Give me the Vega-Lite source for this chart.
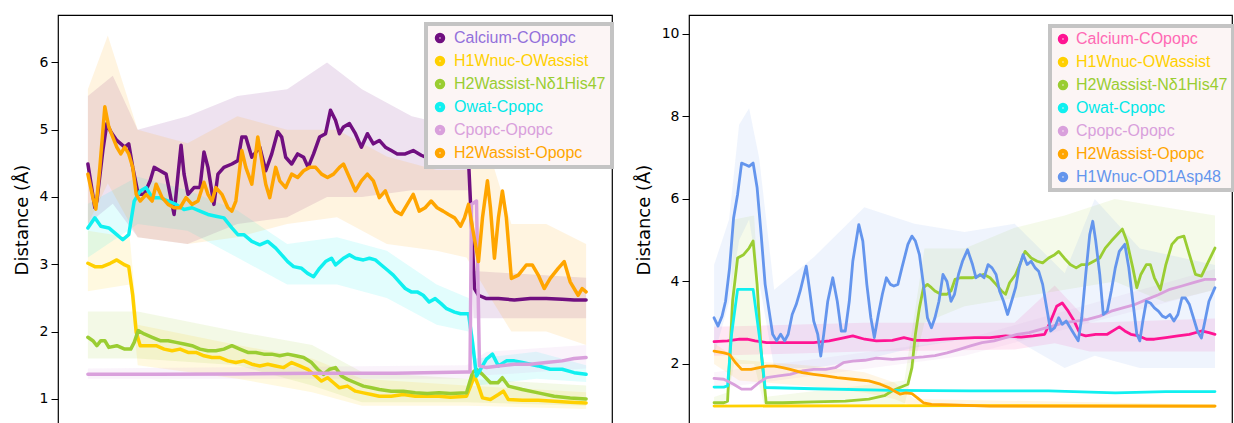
{
"$schema": "https://vega.github.io/schema/vega-lite/v6.json",
"background": "white",
"padding": {"left": 12, "top": 14, "right": 0, "bottom": 0},
"spacing": 19,
"config": {
  "view": {"stroke": "#000000", "strokeWidth": 1.2},
  "axisY": {"grid": false, "tickSize": 7, "tickColor": "#000", "labelPadding": 3, "labelFontSize": 14, "labelFont": "DejaVu Sans", "labelColor": "#000", "titleFontSize": 18, "titleFont": "DejaVu Sans", "titleFontWeight": "normal", "titleColor": "#000", "titlePadding": 8, "domain": false, "format": "d"},
  "legend": {"strokeWidth": 4}
},
"datasets": {
"leftband": [
{"s":"Calcium-COpopc","x":0,"lo":3.6,"hi":5.5},{"s":"Calcium-COpopc","x":5,"lo":3.9,"hi":5.8},{"s":"Calcium-COpopc","x":10,"lo":3.4,"hi":5.0},{"s":"Calcium-COpopc","x":20,"lo":3.3,"hi":5.2},{"s":"Calcium-COpopc","x":30,"lo":3.6,"hi":5.5},{"s":"Calcium-COpopc","x":40,"lo":3.7,"hi":5.6},{"s":"Calcium-COpopc","x":48,"lo":4.0,"hi":6.0},{"s":"Calcium-COpopc","x":55,"lo":4.0,"hi":5.6},{"s":"Calcium-COpopc","x":65,"lo":4.1,"hi":5.2},{"s":"Calcium-COpopc","x":76.4,"lo":4.1,"hi":5.0},{"s":"Calcium-COpopc","x":77.4,"lo":2.2,"hi":2.9},{"s":"Calcium-COpopc","x":100,"lo":2.2,"hi":2.8},
{"s":"H1Wnuc-OWassist","x":0,"lo":2.6,"hi":3.5},{"s":"H1Wnuc-OWassist","x":8.4,"lo":2.7,"hi":3.4},{"s":"H1Wnuc-OWassist","x":10,"lo":1.5,"hi":2.1},{"s":"H1Wnuc-OWassist","x":30,"lo":1.3,"hi":1.8},{"s":"H1Wnuc-OWassist","x":45,"lo":1.1,"hi":1.6},{"s":"H1Wnuc-OWassist","x":55,"lo":0.9,"hi":1.3},{"s":"H1Wnuc-OWassist","x":76,"lo":0.9,"hi":1.2},{"s":"H1Wnuc-OWassist","x":100,"lo":0.85,"hi":1.1},
{"s":"H2Wassist-Nδ1His47","x":0,"lo":1.6,"hi":2.3},{"s":"H2Wassist-Nδ1His47","x":10,"lo":1.6,"hi":2.3},{"s":"H2Wassist-Nδ1His47","x":30,"lo":1.5,"hi":2.0},{"s":"H2Wassist-Nδ1His47","x":45,"lo":1.2,"hi":1.8},{"s":"H2Wassist-Nδ1His47","x":55,"lo":0.95,"hi":1.4},{"s":"H2Wassist-Nδ1His47","x":76,"lo":0.95,"hi":1.3},{"s":"H2Wassist-Nδ1His47","x":100,"lo":0.9,"hi":1.2},
{"s":"Owat-Cpopc","x":0,"lo":3.1,"hi":3.9},{"s":"Owat-Cpopc","x":10,"lo":3.6,"hi":4.3},{"s":"Owat-Cpopc","x":20,"lo":3.5,"hi":4.1},{"s":"Owat-Cpopc","x":30,"lo":3.1,"hi":3.8},{"s":"Owat-Cpopc","x":40,"lo":2.7,"hi":3.3},{"s":"Owat-Cpopc","x":50,"lo":2.7,"hi":3.4},{"s":"Owat-Cpopc","x":60,"lo":2.5,"hi":3.2},{"s":"Owat-Cpopc","x":70,"lo":2.1,"hi":2.7},{"s":"Owat-Cpopc","x":76.4,"lo":2.0,"hi":2.5},{"s":"Owat-Cpopc","x":78,"lo":1.2,"hi":1.6},{"s":"Owat-Cpopc","x":90,"lo":1.3,"hi":1.7},{"s":"Owat-Cpopc","x":100,"lo":1.25,"hi":1.5},
{"s":"Cpopc-Opopc","x":0,"lo":1.3,"hi":1.45},{"s":"Cpopc-Opopc","x":76,"lo":1.3,"hi":1.5},{"s":"Cpopc-Opopc","x":80,"lo":1.35,"hi":1.7},{"s":"Cpopc-Opopc","x":100,"lo":1.45,"hi":1.8},
{"s":"H2Wassist-Opopc","x":0,"lo":3.6,"hi":5.6},{"s":"H2Wassist-Opopc","x":4,"lo":4.2,"hi":6.4},{"s":"H2Wassist-Opopc","x":10,"lo":3.4,"hi":5.0},{"s":"H2Wassist-Opopc","x":20,"lo":3.3,"hi":4.8},{"s":"H2Wassist-Opopc","x":30,"lo":3.4,"hi":5.2},{"s":"H2Wassist-Opopc","x":40,"lo":3.6,"hi":5.0},{"s":"H2Wassist-Opopc","x":50,"lo":3.7,"hi":5.0},{"s":"H2Wassist-Opopc","x":60,"lo":3.3,"hi":4.6},{"s":"H2Wassist-Opopc","x":70,"lo":3.2,"hi":4.4},{"s":"H2Wassist-Opopc","x":76,"lo":3.1,"hi":4.4},{"s":"H2Wassist-Opopc","x":80,"lo":2.6,"hi":4.8},{"s":"H2Wassist-Opopc","x":85,"lo":2.0,"hi":3.6},{"s":"H2Wassist-Opopc","x":92,"lo":2.0,"hi":3.6},{"s":"H2Wassist-Opopc","x":100,"lo":1.8,"hi":3.3}
],
"rightband": [
{"s":"Calcium-COpopc","x":0,"lo":2.2,"hi":2.9},{"s":"Calcium-COpopc","x":30,"lo":2.3,"hi":3.0},{"s":"Calcium-COpopc","x":60,"lo":2.35,"hi":3.0},{"s":"Calcium-COpopc","x":68,"lo":2.5,"hi":3.9},{"s":"Calcium-COpopc","x":75,"lo":2.3,"hi":3.0},{"s":"Calcium-COpopc","x":100,"lo":2.3,"hi":3.1},
{"s":"H2Wassist-Nδ1His47","x":0,"lo":1.0,"hi":1.2},{"s":"H2Wassist-Nδ1His47","x":2.5,"lo":1.0,"hi":1.3},{"s":"H2Wassist-Nδ1His47","x":4,"lo":2.0,"hi":5.5},{"s":"H2Wassist-Nδ1His47","x":8,"lo":2.0,"hi":5.6},{"s":"H2Wassist-Nδ1His47","x":10,"lo":1.0,"hi":1.2},{"s":"H2Wassist-Nδ1His47","x":38,"lo":1.0,"hi":1.6},{"s":"H2Wassist-Nδ1His47","x":42,"lo":3.0,"hi":4.8},{"s":"H2Wassist-Nδ1His47","x":50,"lo":3.4,"hi":4.8},{"s":"H2Wassist-Nδ1His47","x":60,"lo":3.6,"hi":5.3},{"s":"H2Wassist-Nδ1His47","x":70,"lo":3.8,"hi":5.6},{"s":"H2Wassist-Nδ1His47","x":80,"lo":4.0,"hi":6.0},{"s":"H2Wassist-Nδ1His47","x":90,"lo":3.5,"hi":5.8},{"s":"H2Wassist-Nδ1His47","x":100,"lo":3.8,"hi":5.6},
{"s":"Cpopc-Opopc","x":0,"lo":1.4,"hi":1.8},{"s":"Cpopc-Opopc","x":50,"lo":2.2,"hi":2.6},{"s":"Cpopc-Opopc","x":100,"lo":3.8,"hi":4.3},
{"s":"H2Wassist-Opopc","x":0,"lo":2.0,"hi":2.5},{"s":"H2Wassist-Opopc","x":5,"lo":1.6,"hi":2.1},{"s":"H2Wassist-Opopc","x":20,"lo":1.45,"hi":1.95},{"s":"H2Wassist-Opopc","x":30,"lo":1.3,"hi":1.8},{"s":"H2Wassist-Opopc","x":36,"lo":1.15,"hi":1.55},{"s":"H2Wassist-Opopc","x":40,"lo":0.95,"hi":1.15},{"s":"H2Wassist-Opopc","x":100,"lo":0.95,"hi":1.02},
{"s":"H1Wnuc-OD1Asp48","x":0,"lo":2.2,"hi":4.4},{"s":"H1Wnuc-OD1Asp48","x":3,"lo":3.5,"hi":5.5},{"s":"H1Wnuc-OD1Asp48","x":5,"lo":5.0,"hi":7.8},{"s":"H1Wnuc-OD1Asp48","x":7,"lo":5.5,"hi":8.2},{"s":"H1Wnuc-OD1Asp48","x":9,"lo":4.0,"hi":7.0},{"s":"H1Wnuc-OD1Asp48","x":12,"lo":1.9,"hi":3.8},{"s":"H1Wnuc-OD1Asp48","x":20,"lo":1.9,"hi":4.6},{"s":"H1Wnuc-OD1Asp48","x":30,"lo":2.1,"hi":5.8},{"s":"H1Wnuc-OD1Asp48","x":40,"lo":2.4,"hi":5.4},{"s":"H1Wnuc-OD1Asp48","x":50,"lo":2.6,"hi":5.2},{"s":"H1Wnuc-OD1Asp48","x":60,"lo":2.6,"hi":5.4},{"s":"H1Wnuc-OD1Asp48","x":70,"lo":1.9,"hi":4.2},{"s":"H1Wnuc-OD1Asp48","x":76,"lo":2.2,"hi":6.0},{"s":"H1Wnuc-OD1Asp48","x":85,"lo":1.9,"hi":4.8},{"s":"H1Wnuc-OD1Asp48","x":100,"lo":1.9,"hi":4.4}
],
"left": [
{"s":"Calcium-COpopc","x":0,"y":4.49},{"s":"Calcium-COpopc","x":1.4,"y":3.84},{"s":"Calcium-COpopc","x":1.8,"y":3.94},{"s":"Calcium-COpopc","x":3.0,"y":4.69},{"s":"Calcium-COpopc","x":3.8,"y":5.09},{"s":"Calcium-COpopc","x":4.6,"y":4.97},{"s":"Calcium-COpopc","x":5.8,"y":4.84},{"s":"Calcium-COpopc","x":7.4,"y":4.74},{"s":"Calcium-COpopc","x":8.2,"y":4.79},{"s":"Calcium-COpopc","x":9.0,"y":4.44},{"s":"Calcium-COpopc","x":10.1,"y":4.04},{"s":"Calcium-COpopc","x":11.3,"y":4.04},{"s":"Calcium-COpopc","x":12.5,"y":4.24},{"s":"Calcium-COpopc","x":13.3,"y":4.44},{"s":"Calcium-COpopc","x":14.5,"y":4.39},{"s":"Calcium-COpopc","x":15.7,"y":4.34},{"s":"Calcium-COpopc","x":16.5,"y":4.04},{"s":"Calcium-COpopc","x":17.3,"y":3.74},{"s":"Calcium-COpopc","x":18.1,"y":4.34},{"s":"Calcium-COpopc","x":18.7,"y":4.77},{"s":"Calcium-COpopc","x":19.3,"y":4.34},{"s":"Calcium-COpopc","x":20.1,"y":4.04},{"s":"Calcium-COpopc","x":21.3,"y":4.14},{"s":"Calcium-COpopc","x":22.5,"y":4.14},{"s":"Calcium-COpopc","x":23.3,"y":4.67},{"s":"Calcium-COpopc","x":24.1,"y":4.44},{"s":"Calcium-COpopc","x":25.3,"y":3.89},{"s":"Calcium-COpopc","x":26.1,"y":4.34},{"s":"Calcium-COpopc","x":27.3,"y":4.44},{"s":"Calcium-COpopc","x":28.9,"y":4.49},{"s":"Calcium-COpopc","x":30.1,"y":4.54},{"s":"Calcium-COpopc","x":30.9,"y":4.89},{"s":"Calcium-COpopc","x":31.7,"y":4.89},{"s":"Calcium-COpopc","x":32.9,"y":4.59},{"s":"Calcium-COpopc","x":34.5,"y":4.74},{"s":"Calcium-COpopc","x":35.7,"y":4.39},{"s":"Calcium-COpopc","x":36.9,"y":4.64},{"s":"Calcium-COpopc","x":38.1,"y":4.97},{"s":"Calcium-COpopc","x":38.9,"y":4.89},{"s":"Calcium-COpopc","x":39.7,"y":4.59},{"s":"Calcium-COpopc","x":40.9,"y":4.49},{"s":"Calcium-COpopc","x":42.1,"y":4.64},{"s":"Calcium-COpopc","x":43.3,"y":4.59},{"s":"Calcium-COpopc","x":44.2,"y":4.44},{"s":"Calcium-COpopc","x":45.3,"y":4.64},{"s":"Calcium-COpopc","x":46.5,"y":4.89},{"s":"Calcium-COpopc","x":47.7,"y":4.94},{"s":"Calcium-COpopc","x":48.7,"y":5.29},{"s":"Calcium-COpopc","x":49.7,"y":5.14},{"s":"Calcium-COpopc","x":50.5,"y":4.94},{"s":"Calcium-COpopc","x":51.3,"y":5.04},{"s":"Calcium-COpopc","x":52.5,"y":5.09},{"s":"Calcium-COpopc","x":53.7,"y":4.94},{"s":"Calcium-COpopc","x":54.9,"y":4.74},{"s":"Calcium-COpopc","x":56.1,"y":4.94},{"s":"Calcium-COpopc","x":57.3,"y":4.79},{"s":"Calcium-COpopc","x":58.5,"y":4.84},{"s":"Calcium-COpopc","x":59.7,"y":4.74},{"s":"Calcium-COpopc","x":60.9,"y":4.69},{"s":"Calcium-COpopc","x":62.1,"y":4.64},{"s":"Calcium-COpopc","x":63.7,"y":4.64},{"s":"Calcium-COpopc","x":65.3,"y":4.69},{"s":"Calcium-COpopc","x":66.9,"y":4.62},{"s":"Calcium-COpopc","x":68.5,"y":4.57},{"s":"Calcium-COpopc","x":69.7,"y":4.54},{"s":"Calcium-COpopc","x":70.9,"y":4.59},{"s":"Calcium-COpopc","x":72.4,"y":4.57},{"s":"Calcium-COpopc","x":73.6,"y":4.54},{"s":"Calcium-COpopc","x":75.2,"y":4.57},{"s":"Calcium-COpopc","x":76.4,"y":4.55},{"s":"Calcium-COpopc","x":77.6,"y":2.64},{"s":"Calcium-COpopc","x":78.4,"y":2.54},{"s":"Calcium-COpopc","x":80.0,"y":2.49},{"s":"Calcium-COpopc","x":82.4,"y":2.49},{"s":"Calcium-COpopc","x":85.6,"y":2.47},{"s":"Calcium-COpopc","x":88.8,"y":2.49},{"s":"Calcium-COpopc","x":92.0,"y":2.49},{"s":"Calcium-COpopc","x":95.2,"y":2.48},{"s":"Calcium-COpopc","x":97.6,"y":2.47},{"s":"Calcium-COpopc","x":100,"y":2.47},
{"s":"H1Wnuc-OWassist","x":0,"y":3.015},{"s":"H1Wnuc-OWassist","x":1.4,"y":2.965},{"s":"H1Wnuc-OWassist","x":2.9,"y":2.965},{"s":"H1Wnuc-OWassist","x":4.5,"y":3.015},{"s":"H1Wnuc-OWassist","x":5.8,"y":3.065},{"s":"H1Wnuc-OWassist","x":7.4,"y":2.99},{"s":"H1Wnuc-OWassist","x":8.2,"y":2.965},{"s":"H1Wnuc-OWassist","x":9.0,"y":2.54},{"s":"H1Wnuc-OWassist","x":9.7,"y":1.99},{"s":"H1Wnuc-OWassist","x":10.5,"y":1.79},{"s":"H1Wnuc-OWassist","x":12.1,"y":1.79},{"s":"H1Wnuc-OWassist","x":13.7,"y":1.79},{"s":"H1Wnuc-OWassist","x":15.3,"y":1.74},{"s":"H1Wnuc-OWassist","x":16.9,"y":1.715},{"s":"H1Wnuc-OWassist","x":18.5,"y":1.74},{"s":"H1Wnuc-OWassist","x":20.1,"y":1.69},{"s":"H1Wnuc-OWassist","x":21.7,"y":1.69},{"s":"H1Wnuc-OWassist","x":23.3,"y":1.64},{"s":"H1Wnuc-OWassist","x":24.9,"y":1.615},{"s":"H1Wnuc-OWassist","x":26.5,"y":1.615},{"s":"H1Wnuc-OWassist","x":28.1,"y":1.565},{"s":"H1Wnuc-OWassist","x":29.7,"y":1.54},{"s":"H1Wnuc-OWassist","x":31.3,"y":1.565},{"s":"H1Wnuc-OWassist","x":32.9,"y":1.515},{"s":"H1Wnuc-OWassist","x":34.5,"y":1.49},{"s":"H1Wnuc-OWassist","x":36.1,"y":1.515},{"s":"H1Wnuc-OWassist","x":37.7,"y":1.49},{"s":"H1Wnuc-OWassist","x":39.3,"y":1.465},{"s":"H1Wnuc-OWassist","x":40.9,"y":1.54},{"s":"H1Wnuc-OWassist","x":42.5,"y":1.49},{"s":"H1Wnuc-OWassist","x":44.1,"y":1.44},{"s":"H1Wnuc-OWassist","x":45.7,"y":1.34},{"s":"H1Wnuc-OWassist","x":46.9,"y":1.265},{"s":"H1Wnuc-OWassist","x":48.1,"y":1.315},{"s":"H1Wnuc-OWassist","x":49.3,"y":1.24},{"s":"H1Wnuc-OWassist","x":50.5,"y":1.165},{"s":"H1Wnuc-OWassist","x":52.1,"y":1.19},{"s":"H1Wnuc-OWassist","x":53.7,"y":1.115},{"s":"H1Wnuc-OWassist","x":55.3,"y":1.09},{"s":"H1Wnuc-OWassist","x":56.9,"y":1.065},{"s":"H1Wnuc-OWassist","x":58.5,"y":1.04},{"s":"H1Wnuc-OWassist","x":60.9,"y":1.04},{"s":"H1Wnuc-OWassist","x":63.3,"y":1.065},{"s":"H1Wnuc-OWassist","x":65.7,"y":1.04},{"s":"H1Wnuc-OWassist","x":68.1,"y":1.04},{"s":"H1Wnuc-OWassist","x":70.5,"y":1.04},{"s":"H1Wnuc-OWassist","x":72.8,"y":1.025},{"s":"H1Wnuc-OWassist","x":76.0,"y":1.04},{"s":"H1Wnuc-OWassist","x":76.8,"y":1.19},{"s":"H1Wnuc-OWassist","x":77.6,"y":1.34},{"s":"H1Wnuc-OWassist","x":78.4,"y":1.19},{"s":"H1Wnuc-OWassist","x":79.2,"y":1.015},{"s":"H1Wnuc-OWassist","x":80.8,"y":0.99},{"s":"H1Wnuc-OWassist","x":82.4,"y":1.065},{"s":"H1Wnuc-OWassist","x":83.4,"y":1.115},{"s":"H1Wnuc-OWassist","x":84.4,"y":0.99},{"s":"H1Wnuc-OWassist","x":87.2,"y":0.98},{"s":"H1Wnuc-OWassist","x":90.4,"y":0.98},{"s":"H1Wnuc-OWassist","x":93.6,"y":0.965},{"s":"H1Wnuc-OWassist","x":96.8,"y":0.95},{"s":"H1Wnuc-OWassist","x":100,"y":0.94},
{"s":"H2Wassist-Nδ1His47","x":0,"y":1.915},{"s":"H2Wassist-Nδ1His47","x":1.0,"y":1.865},{"s":"H2Wassist-Nδ1His47","x":1.8,"y":1.79},{"s":"H2Wassist-Nδ1His47","x":2.6,"y":1.865},{"s":"H2Wassist-Nδ1His47","x":3.4,"y":1.865},{"s":"H2Wassist-Nδ1His47","x":4.2,"y":1.765},{"s":"H2Wassist-Nδ1His47","x":5.8,"y":1.79},{"s":"H2Wassist-Nδ1His47","x":7.4,"y":1.74},{"s":"H2Wassist-Nδ1His47","x":8.6,"y":1.74},{"s":"H2Wassist-Nδ1His47","x":9.3,"y":1.84},{"s":"H2Wassist-Nδ1His47","x":10.1,"y":2.015},{"s":"H2Wassist-Nδ1His47","x":11.3,"y":1.965},{"s":"H2Wassist-Nδ1His47","x":12.9,"y":1.915},{"s":"H2Wassist-Nδ1His47","x":14.5,"y":1.865},{"s":"H2Wassist-Nδ1His47","x":16.1,"y":1.865},{"s":"H2Wassist-Nδ1His47","x":17.7,"y":1.84},{"s":"H2Wassist-Nδ1His47","x":19.3,"y":1.815},{"s":"H2Wassist-Nδ1His47","x":20.9,"y":1.79},{"s":"H2Wassist-Nδ1His47","x":22.5,"y":1.74},{"s":"H2Wassist-Nδ1His47","x":24.1,"y":1.715},{"s":"H2Wassist-Nδ1His47","x":25.7,"y":1.715},{"s":"H2Wassist-Nδ1His47","x":27.3,"y":1.74},{"s":"H2Wassist-Nδ1His47","x":28.9,"y":1.79},{"s":"H2Wassist-Nδ1His47","x":30.5,"y":1.74},{"s":"H2Wassist-Nδ1His47","x":32.1,"y":1.69},{"s":"H2Wassist-Nδ1His47","x":33.7,"y":1.69},{"s":"H2Wassist-Nδ1His47","x":35.3,"y":1.665},{"s":"H2Wassist-Nδ1His47","x":36.9,"y":1.665},{"s":"H2Wassist-Nδ1His47","x":38.5,"y":1.64},{"s":"H2Wassist-Nδ1His47","x":40.1,"y":1.665},{"s":"H2Wassist-Nδ1His47","x":41.7,"y":1.64},{"s":"H2Wassist-Nδ1His47","x":43.3,"y":1.615},{"s":"H2Wassist-Nδ1His47","x":44.9,"y":1.54},{"s":"H2Wassist-Nδ1His47","x":46.1,"y":1.44},{"s":"H2Wassist-Nδ1His47","x":47.3,"y":1.365},{"s":"H2Wassist-Nδ1His47","x":48.5,"y":1.44},{"s":"H2Wassist-Nδ1His47","x":49.7,"y":1.465},{"s":"H2Wassist-Nδ1His47","x":50.9,"y":1.34},{"s":"H2Wassist-Nδ1His47","x":52.1,"y":1.29},{"s":"H2Wassist-Nδ1His47","x":53.7,"y":1.24},{"s":"H2Wassist-Nδ1His47","x":55.3,"y":1.19},{"s":"H2Wassist-Nδ1His47","x":56.9,"y":1.165},{"s":"H2Wassist-Nδ1His47","x":58.5,"y":1.14},{"s":"H2Wassist-Nδ1His47","x":60.9,"y":1.115},{"s":"H2Wassist-Nδ1His47","x":63.3,"y":1.115},{"s":"H2Wassist-Nδ1His47","x":65.7,"y":1.09},{"s":"H2Wassist-Nδ1His47","x":68.1,"y":1.08},{"s":"H2Wassist-Nδ1His47","x":70.5,"y":1.09},{"s":"H2Wassist-Nδ1His47","x":72.8,"y":1.08},{"s":"H2Wassist-Nδ1His47","x":76.0,"y":1.09},{"s":"H2Wassist-Nδ1His47","x":77.2,"y":1.39},{"s":"H2Wassist-Nδ1His47","x":78.0,"y":1.44},{"s":"H2Wassist-Nδ1His47","x":79.2,"y":1.365},{"s":"H2Wassist-Nδ1His47","x":80.8,"y":1.24},{"s":"H2Wassist-Nδ1His47","x":82.3,"y":1.24},{"s":"H2Wassist-Nδ1His47","x":83.2,"y":1.315},{"s":"H2Wassist-Nδ1His47","x":84.4,"y":1.19},{"s":"H2Wassist-Nδ1His47","x":87.2,"y":1.14},{"s":"H2Wassist-Nδ1His47","x":90.4,"y":1.09},{"s":"H2Wassist-Nδ1His47","x":93.6,"y":1.04},{"s":"H2Wassist-Nδ1His47","x":96.8,"y":1.015},{"s":"H2Wassist-Nδ1His47","x":100,"y":1.0},
{"s":"Owat-Cpopc","x":0,"y":3.54},{"s":"Owat-Cpopc","x":1.4,"y":3.69},{"s":"Owat-Cpopc","x":2.6,"y":3.565},{"s":"Owat-Cpopc","x":4.2,"y":3.54},{"s":"Owat-Cpopc","x":5.8,"y":3.44},{"s":"Owat-Cpopc","x":7.0,"y":3.365},{"s":"Owat-Cpopc","x":8.2,"y":3.44},{"s":"Owat-Cpopc","x":9.3,"y":3.94},{"s":"Owat-Cpopc","x":10.5,"y":4.09},{"s":"Owat-Cpopc","x":11.7,"y":4.14},{"s":"Owat-Cpopc","x":12.9,"y":3.99},{"s":"Owat-Cpopc","x":14.5,"y":3.99},{"s":"Owat-Cpopc","x":16.1,"y":3.94},{"s":"Owat-Cpopc","x":17.7,"y":3.89},{"s":"Owat-Cpopc","x":19.3,"y":3.815},{"s":"Owat-Cpopc","x":20.9,"y":3.84},{"s":"Owat-Cpopc","x":22.5,"y":3.79},{"s":"Owat-Cpopc","x":24.1,"y":3.74},{"s":"Owat-Cpopc","x":25.7,"y":3.715},{"s":"Owat-Cpopc","x":27.3,"y":3.69},{"s":"Owat-Cpopc","x":28.9,"y":3.54},{"s":"Owat-Cpopc","x":30.1,"y":3.44},{"s":"Owat-Cpopc","x":31.3,"y":3.44},{"s":"Owat-Cpopc","x":32.9,"y":3.34},{"s":"Owat-Cpopc","x":34.5,"y":3.29},{"s":"Owat-Cpopc","x":36.1,"y":3.34},{"s":"Owat-Cpopc","x":37.7,"y":3.24},{"s":"Owat-Cpopc","x":38.9,"y":3.14},{"s":"Owat-Cpopc","x":40.1,"y":3.04},{"s":"Owat-Cpopc","x":41.3,"y":2.965},{"s":"Owat-Cpopc","x":42.9,"y":2.94},{"s":"Owat-Cpopc","x":44.1,"y":2.865},{"s":"Owat-Cpopc","x":45.3,"y":2.815},{"s":"Owat-Cpopc","x":46.5,"y":2.94},{"s":"Owat-Cpopc","x":47.7,"y":3.04},{"s":"Owat-Cpopc","x":48.9,"y":3.09},{"s":"Owat-Cpopc","x":49.7,"y":2.99},{"s":"Owat-Cpopc","x":50.5,"y":3.04},{"s":"Owat-Cpopc","x":51.3,"y":3.09},{"s":"Owat-Cpopc","x":52.5,"y":3.14},{"s":"Owat-Cpopc","x":53.7,"y":3.09},{"s":"Owat-Cpopc","x":55.3,"y":3.065},{"s":"Owat-Cpopc","x":56.5,"y":3.09},{"s":"Owat-Cpopc","x":57.7,"y":3.065},{"s":"Owat-Cpopc","x":58.9,"y":2.99},{"s":"Owat-Cpopc","x":60.1,"y":2.915},{"s":"Owat-Cpopc","x":61.3,"y":2.84},{"s":"Owat-Cpopc","x":62.5,"y":2.74},{"s":"Owat-Cpopc","x":63.7,"y":2.64},{"s":"Owat-Cpopc","x":64.9,"y":2.59},{"s":"Owat-Cpopc","x":66.1,"y":2.59},{"s":"Owat-Cpopc","x":67.3,"y":2.54},{"s":"Owat-Cpopc","x":68.5,"y":2.44},{"s":"Owat-Cpopc","x":69.7,"y":2.49},{"s":"Owat-Cpopc","x":70.9,"y":2.415},{"s":"Owat-Cpopc","x":72.0,"y":2.34},{"s":"Owat-Cpopc","x":73.6,"y":2.29},{"s":"Owat-Cpopc","x":74.8,"y":2.265},{"s":"Owat-Cpopc","x":76.4,"y":2.265},{"s":"Owat-Cpopc","x":77.2,"y":1.84},{"s":"Owat-Cpopc","x":78.0,"y":1.34},{"s":"Owat-Cpopc","x":78.8,"y":1.44},{"s":"Owat-Cpopc","x":80.0,"y":1.59},{"s":"Owat-Cpopc","x":81.2,"y":1.665},{"s":"Owat-Cpopc","x":82.4,"y":1.49},{"s":"Owat-Cpopc","x":84.0,"y":1.565},{"s":"Owat-Cpopc","x":85.6,"y":1.565},{"s":"Owat-Cpopc","x":87.2,"y":1.54},{"s":"Owat-Cpopc","x":88.8,"y":1.515},{"s":"Owat-Cpopc","x":90.4,"y":1.49},{"s":"Owat-Cpopc","x":92.8,"y":1.44},{"s":"Owat-Cpopc","x":95.2,"y":1.44},{"s":"Owat-Cpopc","x":97.6,"y":1.39},{"s":"Owat-Cpopc","x":100,"y":1.365},
{"s":"Cpopc-Opopc","x":0,"y":1.365},{"s":"Cpopc-Opopc","x":13.7,"y":1.365},{"s":"Cpopc-Opopc","x":29.7,"y":1.37},{"s":"Cpopc-Opopc","x":45.7,"y":1.38},{"s":"Cpopc-Opopc","x":61.7,"y":1.38},{"s":"Cpopc-Opopc","x":76.0,"y":1.4},{"s":"Cpopc-Opopc","x":76.7,"y":1.4},{"s":"Cpopc-Opopc","x":77.0,"y":3.89},{"s":"Cpopc-Opopc","x":78.0,"y":3.94},{"s":"Cpopc-Opopc","x":78.6,"y":1.49},{"s":"Cpopc-Opopc","x":80.0,"y":1.465},{"s":"Cpopc-Opopc","x":82.4,"y":1.49},{"s":"Cpopc-Opopc","x":85.6,"y":1.515},{"s":"Cpopc-Opopc","x":88.8,"y":1.515},{"s":"Cpopc-Opopc","x":92.0,"y":1.54},{"s":"Cpopc-Opopc","x":95.2,"y":1.565},{"s":"Cpopc-Opopc","x":97.6,"y":1.6},{"s":"Cpopc-Opopc","x":100,"y":1.615},
{"s":"H2Wassist-Opopc","x":0,"y":4.34},{"s":"H2Wassist-Opopc","x":1.0,"y":3.99},{"s":"H2Wassist-Opopc","x":1.6,"y":3.82},{"s":"H2Wassist-Opopc","x":2.4,"y":4.44},{"s":"H2Wassist-Opopc","x":3.4,"y":5.34},{"s":"H2Wassist-Opopc","x":4.2,"y":5.04},{"s":"H2Wassist-Opopc","x":5.0,"y":4.89},{"s":"H2Wassist-Opopc","x":5.8,"y":4.74},{"s":"H2Wassist-Opopc","x":6.6,"y":4.64},{"s":"H2Wassist-Opopc","x":7.4,"y":4.74},{"s":"H2Wassist-Opopc","x":8.2,"y":4.64},{"s":"H2Wassist-Opopc","x":9.0,"y":4.44},{"s":"H2Wassist-Opopc","x":9.7,"y":4.04},{"s":"H2Wassist-Opopc","x":10.5,"y":3.94},{"s":"H2Wassist-Opopc","x":11.7,"y":4.04},{"s":"H2Wassist-Opopc","x":12.9,"y":3.94},{"s":"H2Wassist-Opopc","x":13.7,"y":4.19},{"s":"H2Wassist-Opopc","x":14.9,"y":3.99},{"s":"H2Wassist-Opopc","x":16.1,"y":3.89},{"s":"H2Wassist-Opopc","x":17.3,"y":3.84},{"s":"H2Wassist-Opopc","x":18.5,"y":3.84},{"s":"H2Wassist-Opopc","x":19.7,"y":3.99},{"s":"H2Wassist-Opopc","x":20.9,"y":3.89},{"s":"H2Wassist-Opopc","x":22.1,"y":3.94},{"s":"H2Wassist-Opopc","x":23.3,"y":4.22},{"s":"H2Wassist-Opopc","x":24.1,"y":4.04},{"s":"H2Wassist-Opopc","x":24.9,"y":3.94},{"s":"H2Wassist-Opopc","x":25.7,"y":4.14},{"s":"H2Wassist-Opopc","x":26.9,"y":4.04},{"s":"H2Wassist-Opopc","x":28.1,"y":3.84},{"s":"H2Wassist-Opopc","x":28.9,"y":3.79},{"s":"H2Wassist-Opopc","x":29.7,"y":3.94},{"s":"H2Wassist-Opopc","x":30.9,"y":4.69},{"s":"H2Wassist-Opopc","x":31.7,"y":4.44},{"s":"H2Wassist-Opopc","x":32.9,"y":4.19},{"s":"H2Wassist-Opopc","x":34.1,"y":4.89},{"s":"H2Wassist-Opopc","x":34.9,"y":4.54},{"s":"H2Wassist-Opopc","x":35.7,"y":4.19},{"s":"H2Wassist-Opopc","x":36.5,"y":3.99},{"s":"H2Wassist-Opopc","x":37.7,"y":4.44},{"s":"H2Wassist-Opopc","x":38.5,"y":4.24},{"s":"H2Wassist-Opopc","x":39.7,"y":4.14},{"s":"H2Wassist-Opopc","x":40.9,"y":4.34},{"s":"H2Wassist-Opopc","x":42.1,"y":4.29},{"s":"H2Wassist-Opopc","x":43.3,"y":4.39},{"s":"H2Wassist-Opopc","x":44.5,"y":4.44},{"s":"H2Wassist-Opopc","x":45.7,"y":4.44},{"s":"H2Wassist-Opopc","x":46.9,"y":4.34},{"s":"H2Wassist-Opopc","x":48.1,"y":4.29},{"s":"H2Wassist-Opopc","x":49.3,"y":4.34},{"s":"H2Wassist-Opopc","x":50.5,"y":4.44},{"s":"H2Wassist-Opopc","x":51.3,"y":4.49},{"s":"H2Wassist-Opopc","x":52.5,"y":4.29},{"s":"H2Wassist-Opopc","x":53.7,"y":4.09},{"s":"H2Wassist-Opopc","x":54.9,"y":4.24},{"s":"H2Wassist-Opopc","x":56.1,"y":4.34},{"s":"H2Wassist-Opopc","x":57.3,"y":4.24},{"s":"H2Wassist-Opopc","x":58.5,"y":3.99},{"s":"H2Wassist-Opopc","x":59.7,"y":4.09},{"s":"H2Wassist-Opopc","x":60.5,"y":3.94},{"s":"H2Wassist-Opopc","x":61.7,"y":3.79},{"s":"H2Wassist-Opopc","x":62.9,"y":3.74},{"s":"H2Wassist-Opopc","x":64.1,"y":3.89},{"s":"H2Wassist-Opopc","x":65.3,"y":4.04},{"s":"H2Wassist-Opopc","x":66.5,"y":3.79},{"s":"H2Wassist-Opopc","x":67.7,"y":3.84},{"s":"H2Wassist-Opopc","x":68.9,"y":3.94},{"s":"H2Wassist-Opopc","x":70.1,"y":3.84},{"s":"H2Wassist-Opopc","x":71.3,"y":3.79},{"s":"H2Wassist-Opopc","x":72.4,"y":3.74},{"s":"H2Wassist-Opopc","x":73.6,"y":3.69},{"s":"H2Wassist-Opopc","x":74.8,"y":3.565},{"s":"H2Wassist-Opopc","x":75.6,"y":3.69},{"s":"H2Wassist-Opopc","x":76.4,"y":3.89},{"s":"H2Wassist-Opopc","x":77.2,"y":3.54},{"s":"H2Wassist-Opopc","x":78.4,"y":3.04},{"s":"H2Wassist-Opopc","x":79.2,"y":3.69},{"s":"H2Wassist-Opopc","x":80.2,"y":4.24},{"s":"H2Wassist-Opopc","x":80.8,"y":3.84},{"s":"H2Wassist-Opopc","x":81.6,"y":3.09},{"s":"H2Wassist-Opopc","x":82.4,"y":3.69},{"s":"H2Wassist-Opopc","x":83.2,"y":4.09},{"s":"H2Wassist-Opopc","x":84.0,"y":3.69},{"s":"H2Wassist-Opopc","x":85.0,"y":2.79},{"s":"H2Wassist-Opopc","x":86.4,"y":2.84},{"s":"H2Wassist-Opopc","x":88.0,"y":2.99},{"s":"H2Wassist-Opopc","x":89.2,"y":2.99},{"s":"H2Wassist-Opopc","x":90.4,"y":2.84},{"s":"H2Wassist-Opopc","x":91.6,"y":2.64},{"s":"H2Wassist-Opopc","x":92.8,"y":2.79},{"s":"H2Wassist-Opopc","x":94.4,"y":2.94},{"s":"H2Wassist-Opopc","x":95.6,"y":3.04},{"s":"H2Wassist-Opopc","x":96.8,"y":2.74},{"s":"H2Wassist-Opopc","x":98.4,"y":2.54},{"s":"H2Wassist-Opopc","x":99.2,"y":2.64},{"s":"H2Wassist-Opopc","x":100,"y":2.59}
],
"right": [
{"s":"Calcium-COpopc","x":0,"y":2.54},{"s":"Calcium-COpopc","x":2.7,"y":2.56},{"s":"Calcium-COpopc","x":5.1,"y":2.6},{"s":"Calcium-COpopc","x":6.6,"y":2.6},{"s":"Calcium-COpopc","x":8.2,"y":2.56},{"s":"Calcium-COpopc","x":10.5,"y":2.52},{"s":"Calcium-COpopc","x":13.7,"y":2.52},{"s":"Calcium-COpopc","x":16.8,"y":2.52},{"s":"Calcium-COpopc","x":19.9,"y":2.52},{"s":"Calcium-COpopc","x":23.0,"y":2.56},{"s":"Calcium-COpopc","x":25.4,"y":2.62},{"s":"Calcium-COpopc","x":27.7,"y":2.68},{"s":"Calcium-COpopc","x":30.1,"y":2.6},{"s":"Calcium-COpopc","x":32.4,"y":2.56},{"s":"Calcium-COpopc","x":35.6,"y":2.57},{"s":"Calcium-COpopc","x":37.9,"y":2.64},{"s":"Calcium-COpopc","x":40.2,"y":2.57},{"s":"Calcium-COpopc","x":42.6,"y":2.57},{"s":"Calcium-COpopc","x":45.7,"y":2.6},{"s":"Calcium-COpopc","x":48.8,"y":2.62},{"s":"Calcium-COpopc","x":52.0,"y":2.64},{"s":"Calcium-COpopc","x":55.1,"y":2.64},{"s":"Calcium-COpopc","x":58.2,"y":2.68},{"s":"Calcium-COpopc","x":61.3,"y":2.65},{"s":"Calcium-COpopc","x":63.7,"y":2.68},{"s":"Calcium-COpopc","x":66.0,"y":2.72},{"s":"Calcium-COpopc","x":67.2,"y":3.04},{"s":"Calcium-COpopc","x":68.4,"y":3.4},{"s":"Calcium-COpopc","x":69.5,"y":3.48},{"s":"Calcium-COpopc","x":70.7,"y":3.28},{"s":"Calcium-COpopc","x":71.9,"y":3.04},{"s":"Calcium-COpopc","x":73.1,"y":2.72},{"s":"Calcium-COpopc","x":74.2,"y":2.68},{"s":"Calcium-COpopc","x":76.2,"y":2.72},{"s":"Calcium-COpopc","x":78.5,"y":2.72},{"s":"Calcium-COpopc","x":80.1,"y":2.84},{"s":"Calcium-COpopc","x":80.9,"y":2.9},{"s":"Calcium-COpopc","x":82.0,"y":2.8},{"s":"Calcium-COpopc","x":83.2,"y":2.72},{"s":"Calcium-COpopc","x":84.8,"y":2.68},{"s":"Calcium-COpopc","x":86.3,"y":2.6},{"s":"Calcium-COpopc","x":87.9,"y":2.6},{"s":"Calcium-COpopc","x":90.2,"y":2.64},{"s":"Calcium-COpopc","x":92.6,"y":2.68},{"s":"Calcium-COpopc","x":94.9,"y":2.72},{"s":"Calcium-COpopc","x":97.3,"y":2.8},{"s":"Calcium-COpopc","x":98.8,"y":2.76},{"s":"Calcium-COpopc","x":100,"y":2.72},
{"s":"H1Wnuc-OWassist","x":0,"y":0.98},{"s":"H1Wnuc-OWassist","x":50,"y":0.99},{"s":"H1Wnuc-OWassist","x":100,"y":0.98},
{"s":"H2Wassist-Nδ1His47","x":0,"y":1.06},{"s":"H2Wassist-Nδ1His47","x":1.95,"y":1.06},{"s":"H2Wassist-Nδ1His47","x":2.7,"y":1.1},{"s":"H2Wassist-Nδ1His47","x":3.7,"y":3.52},{"s":"H2Wassist-Nδ1His47","x":4.7,"y":4.57},{"s":"H2Wassist-Nδ1His47","x":5.9,"y":4.65},{"s":"H2Wassist-Nδ1His47","x":7.0,"y":4.81},{"s":"H2Wassist-Nδ1His47","x":7.8,"y":4.98},{"s":"H2Wassist-Nδ1His47","x":8.6,"y":3.93},{"s":"H2Wassist-Nδ1His47","x":9.4,"y":2.32},{"s":"H2Wassist-Nδ1His47","x":10.4,"y":1.06},{"s":"H2Wassist-Nδ1His47","x":13.7,"y":1.06},{"s":"H2Wassist-Nδ1His47","x":19.9,"y":1.08},{"s":"H2Wassist-Nδ1His47","x":26.2,"y":1.1},{"s":"H2Wassist-Nδ1His47","x":30.9,"y":1.15},{"s":"H2Wassist-Nδ1His47","x":34.0,"y":1.23},{"s":"H2Wassist-Nδ1His47","x":35.6,"y":1.35},{"s":"H2Wassist-Nδ1His47","x":37.1,"y":1.43},{"s":"H2Wassist-Nδ1His47","x":38.7,"y":1.51},{"s":"H2Wassist-Nδ1His47","x":39.5,"y":1.91},{"s":"H2Wassist-Nδ1His47","x":40.2,"y":2.72},{"s":"H2Wassist-Nδ1His47","x":41.0,"y":3.36},{"s":"H2Wassist-Nδ1His47","x":41.8,"y":3.85},{"s":"H2Wassist-Nδ1His47","x":42.6,"y":3.93},{"s":"H2Wassist-Nδ1His47","x":43.4,"y":3.85},{"s":"H2Wassist-Nδ1His47","x":44.1,"y":3.77},{"s":"H2Wassist-Nδ1His47","x":45.3,"y":3.69},{"s":"H2Wassist-Nδ1His47","x":46.5,"y":3.69},{"s":"H2Wassist-Nδ1His47","x":47.3,"y":3.77},{"s":"H2Wassist-Nδ1His47","x":48.1,"y":4.05},{"s":"H2Wassist-Nδ1His47","x":49.2,"y":4.09},{"s":"H2Wassist-Nδ1His47","x":50.4,"y":4.09},{"s":"H2Wassist-Nδ1His47","x":51.6,"y":4.09},{"s":"H2Wassist-Nδ1His47","x":52.7,"y":4.13},{"s":"H2Wassist-Nδ1His47","x":53.9,"y":4.17},{"s":"H2Wassist-Nδ1His47","x":55.1,"y":4.09},{"s":"H2Wassist-Nδ1His47","x":56.3,"y":3.93},{"s":"H2Wassist-Nδ1His47","x":57.4,"y":3.77},{"s":"H2Wassist-Nδ1His47","x":58.2,"y":3.69},{"s":"H2Wassist-Nδ1His47","x":59.0,"y":3.97},{"s":"H2Wassist-Nδ1His47","x":60.2,"y":4.17},{"s":"H2Wassist-Nδ1His47","x":61.3,"y":4.49},{"s":"H2Wassist-Nδ1His47","x":62.1,"y":4.73},{"s":"H2Wassist-Nδ1His47","x":63.3,"y":4.57},{"s":"H2Wassist-Nδ1His47","x":64.5,"y":4.49},{"s":"H2Wassist-Nδ1His47","x":65.6,"y":4.45},{"s":"H2Wassist-Nδ1His47","x":66.8,"y":4.57},{"s":"H2Wassist-Nδ1His47","x":68.0,"y":4.65},{"s":"H2Wassist-Nδ1His47","x":68.8,"y":4.73},{"s":"H2Wassist-Nδ1His47","x":69.9,"y":4.57},{"s":"H2Wassist-Nδ1His47","x":71.1,"y":4.41},{"s":"H2Wassist-Nδ1His47","x":72.3,"y":4.33},{"s":"H2Wassist-Nδ1His47","x":73.4,"y":4.41},{"s":"H2Wassist-Nδ1His47","x":74.6,"y":4.41},{"s":"H2Wassist-Nδ1His47","x":75.8,"y":4.49},{"s":"H2Wassist-Nδ1His47","x":77.0,"y":4.57},{"s":"H2Wassist-Nδ1His47","x":78.1,"y":4.81},{"s":"H2Wassist-Nδ1His47","x":79.3,"y":4.98},{"s":"H2Wassist-Nδ1His47","x":80.5,"y":5.14},{"s":"H2Wassist-Nδ1His47","x":81.5,"y":5.27},{"s":"H2Wassist-Nδ1His47","x":82.4,"y":4.98},{"s":"H2Wassist-Nδ1His47","x":83.6,"y":4.33},{"s":"H2Wassist-Nδ1His47","x":84.4,"y":3.85},{"s":"H2Wassist-Nδ1His47","x":85.2,"y":4.17},{"s":"H2Wassist-Nδ1His47","x":86.3,"y":4.41},{"s":"H2Wassist-Nδ1His47","x":87.1,"y":4.41},{"s":"H2Wassist-Nδ1His47","x":87.9,"y":4.09},{"s":"H2Wassist-Nδ1His47","x":89.1,"y":3.8},{"s":"H2Wassist-Nδ1His47","x":90.2,"y":4.41},{"s":"H2Wassist-Nδ1His47","x":91.4,"y":4.9},{"s":"H2Wassist-Nδ1His47","x":92.6,"y":5.06},{"s":"H2Wassist-Nδ1His47","x":93.8,"y":5.1},{"s":"H2Wassist-Nδ1His47","x":94.9,"y":4.65},{"s":"H2Wassist-Nδ1His47","x":96.1,"y":4.17},{"s":"H2Wassist-Nδ1His47","x":97.3,"y":4.13},{"s":"H2Wassist-Nδ1His47","x":98.4,"y":4.41},{"s":"H2Wassist-Nδ1His47","x":100,"y":4.81},
{"s":"Owat-Cpopc","x":0,"y":1.44},{"s":"Owat-Cpopc","x":1.95,"y":1.44},{"s":"Owat-Cpopc","x":2.7,"y":1.47},{"s":"Owat-Cpopc","x":3.5,"y":2.72},{"s":"Owat-Cpopc","x":4.7,"y":3.81},{"s":"Owat-Cpopc","x":7.8,"y":3.81},{"s":"Owat-Cpopc","x":9.0,"y":2.72},{"s":"Owat-Cpopc","x":10.2,"y":1.43},{"s":"Owat-Cpopc","x":19.9,"y":1.4},{"s":"Owat-Cpopc","x":35.6,"y":1.36},{"s":"Owat-Cpopc","x":51.2,"y":1.35},{"s":"Owat-Cpopc","x":66.8,"y":1.35},{"s":"Owat-Cpopc","x":80.1,"y":1.3},{"s":"Owat-Cpopc","x":90.2,"y":1.33},{"s":"Owat-Cpopc","x":100,"y":1.33},
{"s":"Cpopc-Opopc","x":0,"y":1.65},{"s":"Cpopc-Opopc","x":1.95,"y":1.63},{"s":"Cpopc-Opopc","x":3.9,"y":1.51},{"s":"Cpopc-Opopc","x":5.5,"y":1.39},{"s":"Cpopc-Opopc","x":7.4,"y":1.39},{"s":"Cpopc-Opopc","x":9.0,"y":1.55},{"s":"Cpopc-Opopc","x":10.5,"y":1.67},{"s":"Cpopc-Opopc","x":12.9,"y":1.71},{"s":"Cpopc-Opopc","x":15.2,"y":1.75},{"s":"Cpopc-Opopc","x":17.6,"y":1.83},{"s":"Cpopc-Opopc","x":19.9,"y":1.87},{"s":"Cpopc-Opopc","x":22.3,"y":1.87},{"s":"Cpopc-Opopc","x":24.2,"y":1.91},{"s":"Cpopc-Opopc","x":25.8,"y":2.03},{"s":"Cpopc-Opopc","x":27.7,"y":2.07},{"s":"Cpopc-Opopc","x":30.1,"y":2.09},{"s":"Cpopc-Opopc","x":32.4,"y":2.14},{"s":"Cpopc-Opopc","x":35.6,"y":2.11},{"s":"Cpopc-Opopc","x":38.7,"y":2.14},{"s":"Cpopc-Opopc","x":41.8,"y":2.17},{"s":"Cpopc-Opopc","x":44.1,"y":2.2},{"s":"Cpopc-Opopc","x":46.5,"y":2.27},{"s":"Cpopc-Opopc","x":48.8,"y":2.35},{"s":"Cpopc-Opopc","x":51.2,"y":2.44},{"s":"Cpopc-Opopc","x":53.5,"y":2.52},{"s":"Cpopc-Opopc","x":55.9,"y":2.56},{"s":"Cpopc-Opopc","x":58.2,"y":2.64},{"s":"Cpopc-Opopc","x":60.5,"y":2.72},{"s":"Cpopc-Opopc","x":62.9,"y":2.76},{"s":"Cpopc-Opopc","x":65.2,"y":2.84},{"s":"Cpopc-Opopc","x":67.6,"y":2.92},{"s":"Cpopc-Opopc","x":69.9,"y":3.0},{"s":"Cpopc-Opopc","x":72.3,"y":3.04},{"s":"Cpopc-Opopc","x":74.6,"y":3.08},{"s":"Cpopc-Opopc","x":77.0,"y":3.16},{"s":"Cpopc-Opopc","x":79.3,"y":3.28},{"s":"Cpopc-Opopc","x":81.6,"y":3.36},{"s":"Cpopc-Opopc","x":84.0,"y":3.44},{"s":"Cpopc-Opopc","x":86.3,"y":3.56},{"s":"Cpopc-Opopc","x":88.7,"y":3.68},{"s":"Cpopc-Opopc","x":91.0,"y":3.81},{"s":"Cpopc-Opopc","x":93.4,"y":3.89},{"s":"Cpopc-Opopc","x":95.7,"y":3.97},{"s":"Cpopc-Opopc","x":98.0,"y":4.05},{"s":"Cpopc-Opopc","x":100,"y":4.05},
{"s":"H2Wassist-Opopc","x":0,"y":2.31},{"s":"H2Wassist-Opopc","x":2.0,"y":2.27},{"s":"H2Wassist-Opopc","x":3.1,"y":2.23},{"s":"H2Wassist-Opopc","x":4.3,"y":2.03},{"s":"H2Wassist-Opopc","x":5.5,"y":1.87},{"s":"H2Wassist-Opopc","x":7.4,"y":1.87},{"s":"H2Wassist-Opopc","x":9.0,"y":1.91},{"s":"H2Wassist-Opopc","x":10.5,"y":1.95},{"s":"H2Wassist-Opopc","x":12.1,"y":1.95},{"s":"H2Wassist-Opopc","x":13.7,"y":1.91},{"s":"H2Wassist-Opopc","x":15.2,"y":1.87},{"s":"H2Wassist-Opopc","x":17.6,"y":1.79},{"s":"H2Wassist-Opopc","x":19.9,"y":1.75},{"s":"H2Wassist-Opopc","x":22.3,"y":1.71},{"s":"H2Wassist-Opopc","x":24.6,"y":1.67},{"s":"H2Wassist-Opopc","x":27.7,"y":1.63},{"s":"H2Wassist-Opopc","x":30.9,"y":1.59},{"s":"H2Wassist-Opopc","x":33.2,"y":1.51},{"s":"H2Wassist-Opopc","x":34.8,"y":1.43},{"s":"H2Wassist-Opopc","x":35.9,"y":1.35},{"s":"H2Wassist-Opopc","x":37.1,"y":1.27},{"s":"H2Wassist-Opopc","x":38.3,"y":1.3},{"s":"H2Wassist-Opopc","x":39.5,"y":1.28},{"s":"H2Wassist-Opopc","x":40.6,"y":1.18},{"s":"H2Wassist-Opopc","x":41.8,"y":1.06},{"s":"H2Wassist-Opopc","x":43.4,"y":1.02},{"s":"H2Wassist-Opopc","x":47.3,"y":1.01},{"s":"H2Wassist-Opopc","x":55.1,"y":0.98},{"s":"H2Wassist-Opopc","x":66.8,"y":0.98},{"s":"H2Wassist-Opopc","x":82.4,"y":0.98},{"s":"H2Wassist-Opopc","x":100,"y":0.98},
{"s":"H1Wnuc-OD1Asp48","x":0,"y":3.12},{"s":"H1Wnuc-OD1Asp48","x":0.8,"y":2.92},{"s":"H1Wnuc-OD1Asp48","x":1.6,"y":3.16},{"s":"H1Wnuc-OD1Asp48","x":2.3,"y":3.52},{"s":"H1Wnuc-OD1Asp48","x":3.1,"y":4.33},{"s":"H1Wnuc-OD1Asp48","x":3.9,"y":5.54},{"s":"H1Wnuc-OD1Asp48","x":4.7,"y":6.11},{"s":"H1Wnuc-OD1Asp48","x":5.5,"y":6.87},{"s":"H1Wnuc-OD1Asp48","x":6.3,"y":6.83},{"s":"H1Wnuc-OD1Asp48","x":7.0,"y":6.79},{"s":"H1Wnuc-OD1Asp48","x":7.8,"y":6.87},{"s":"H1Wnuc-OD1Asp48","x":8.6,"y":6.27},{"s":"H1Wnuc-OD1Asp48","x":9.4,"y":5.14},{"s":"H1Wnuc-OD1Asp48","x":10.2,"y":3.93},{"s":"H1Wnuc-OD1Asp48","x":10.9,"y":3.36},{"s":"H1Wnuc-OD1Asp48","x":11.7,"y":2.72},{"s":"H1Wnuc-OD1Asp48","x":12.5,"y":2.56},{"s":"H1Wnuc-OD1Asp48","x":13.3,"y":2.72},{"s":"H1Wnuc-OD1Asp48","x":14.1,"y":2.56},{"s":"H1Wnuc-OD1Asp48","x":14.8,"y":2.72},{"s":"H1Wnuc-OD1Asp48","x":15.6,"y":3.2},{"s":"H1Wnuc-OD1Asp48","x":16.4,"y":3.44},{"s":"H1Wnuc-OD1Asp48","x":17.2,"y":3.77},{"s":"H1Wnuc-OD1Asp48","x":18.4,"y":4.37},{"s":"H1Wnuc-OD1Asp48","x":19.1,"y":3.77},{"s":"H1Wnuc-OD1Asp48","x":19.9,"y":3.04},{"s":"H1Wnuc-OD1Asp48","x":20.7,"y":2.72},{"s":"H1Wnuc-OD1Asp48","x":21.3,"y":2.19},{"s":"H1Wnuc-OD1Asp48","x":21.9,"y":2.72},{"s":"H1Wnuc-OD1Asp48","x":22.7,"y":3.52},{"s":"H1Wnuc-OD1Asp48","x":23.7,"y":4.09},{"s":"H1Wnuc-OD1Asp48","x":24.6,"y":3.52},{"s":"H1Wnuc-OD1Asp48","x":25.4,"y":2.8},{"s":"H1Wnuc-OD1Asp48","x":26.2,"y":2.8},{"s":"H1Wnuc-OD1Asp48","x":27.0,"y":3.52},{"s":"H1Wnuc-OD1Asp48","x":27.7,"y":4.49},{"s":"H1Wnuc-OD1Asp48","x":28.9,"y":5.38},{"s":"H1Wnuc-OD1Asp48","x":29.7,"y":4.98},{"s":"H1Wnuc-OD1Asp48","x":30.5,"y":3.93},{"s":"H1Wnuc-OD1Asp48","x":31.3,"y":3.12},{"s":"H1Wnuc-OD1Asp48","x":32.0,"y":2.64},{"s":"H1Wnuc-OD1Asp48","x":32.8,"y":3.2},{"s":"H1Wnuc-OD1Asp48","x":33.6,"y":3.69},{"s":"H1Wnuc-OD1Asp48","x":34.4,"y":4.09},{"s":"H1Wnuc-OD1Asp48","x":35.2,"y":3.93},{"s":"H1Wnuc-OD1Asp48","x":35.9,"y":3.89},{"s":"H1Wnuc-OD1Asp48","x":36.7,"y":3.93},{"s":"H1Wnuc-OD1Asp48","x":37.5,"y":4.33},{"s":"H1Wnuc-OD1Asp48","x":38.7,"y":4.9},{"s":"H1Wnuc-OD1Asp48","x":39.5,"y":5.1},{"s":"H1Wnuc-OD1Asp48","x":40.2,"y":4.98},{"s":"H1Wnuc-OD1Asp48","x":41.0,"y":4.65},{"s":"H1Wnuc-OD1Asp48","x":41.8,"y":3.93},{"s":"H1Wnuc-OD1Asp48","x":42.6,"y":3.12},{"s":"H1Wnuc-OD1Asp48","x":43.4,"y":2.88},{"s":"H1Wnuc-OD1Asp48","x":44.1,"y":3.12},{"s":"H1Wnuc-OD1Asp48","x":44.9,"y":3.52},{"s":"H1Wnuc-OD1Asp48","x":45.7,"y":4.17},{"s":"H1Wnuc-OD1Asp48","x":46.5,"y":4.0},{"s":"H1Wnuc-OD1Asp48","x":47.3,"y":3.52},{"s":"H1Wnuc-OD1Asp48","x":48.0,"y":3.69},{"s":"H1Wnuc-OD1Asp48","x":48.8,"y":4.17},{"s":"H1Wnuc-OD1Asp48","x":49.6,"y":4.49},{"s":"H1Wnuc-OD1Asp48","x":50.6,"y":4.77},{"s":"H1Wnuc-OD1Asp48","x":51.6,"y":4.41},{"s":"H1Wnuc-OD1Asp48","x":52.3,"y":4.09},{"s":"H1Wnuc-OD1Asp48","x":53.1,"y":4.17},{"s":"H1Wnuc-OD1Asp48","x":53.9,"y":4.09},{"s":"H1Wnuc-OD1Asp48","x":54.7,"y":4.41},{"s":"H1Wnuc-OD1Asp48","x":55.5,"y":4.33},{"s":"H1Wnuc-OD1Asp48","x":56.3,"y":4.17},{"s":"H1Wnuc-OD1Asp48","x":57.0,"y":3.77},{"s":"H1Wnuc-OD1Asp48","x":57.8,"y":3.52},{"s":"H1Wnuc-OD1Asp48","x":58.6,"y":3.2},{"s":"H1Wnuc-OD1Asp48","x":59.4,"y":3.52},{"s":"H1Wnuc-OD1Asp48","x":60.2,"y":3.85},{"s":"H1Wnuc-OD1Asp48","x":60.9,"y":4.33},{"s":"H1Wnuc-OD1Asp48","x":61.7,"y":4.65},{"s":"H1Wnuc-OD1Asp48","x":62.5,"y":4.41},{"s":"H1Wnuc-OD1Asp48","x":63.3,"y":4.49},{"s":"H1Wnuc-OD1Asp48","x":64.1,"y":4.33},{"s":"H1Wnuc-OD1Asp48","x":64.8,"y":4.25},{"s":"H1Wnuc-OD1Asp48","x":65.6,"y":3.93},{"s":"H1Wnuc-OD1Asp48","x":66.4,"y":3.36},{"s":"H1Wnuc-OD1Asp48","x":67.2,"y":2.8},{"s":"H1Wnuc-OD1Asp48","x":68.0,"y":2.88},{"s":"H1Wnuc-OD1Asp48","x":68.8,"y":3.12},{"s":"H1Wnuc-OD1Asp48","x":69.5,"y":2.96},{"s":"H1Wnuc-OD1Asp48","x":70.3,"y":3.04},{"s":"H1Wnuc-OD1Asp48","x":71.5,"y":2.8},{"s":"H1Wnuc-OD1Asp48","x":72.7,"y":2.56},{"s":"H1Wnuc-OD1Asp48","x":73.4,"y":3.12},{"s":"H1Wnuc-OD1Asp48","x":74.2,"y":4.17},{"s":"H1Wnuc-OD1Asp48","x":75.0,"y":5.14},{"s":"H1Wnuc-OD1Asp48","x":75.6,"y":5.46},{"s":"H1Wnuc-OD1Asp48","x":76.2,"y":4.98},{"s":"H1Wnuc-OD1Asp48","x":77.0,"y":4.17},{"s":"H1Wnuc-OD1Asp48","x":77.7,"y":3.2},{"s":"H1Wnuc-OD1Asp48","x":78.5,"y":3.28},{"s":"H1Wnuc-OD1Asp48","x":79.3,"y":3.77},{"s":"H1Wnuc-OD1Asp48","x":80.1,"y":4.33},{"s":"H1Wnuc-OD1Asp48","x":80.9,"y":4.73},{"s":"H1Wnuc-OD1Asp48","x":82.0,"y":4.9},{"s":"H1Wnuc-OD1Asp48","x":82.8,"y":4.33},{"s":"H1Wnuc-OD1Asp48","x":83.6,"y":3.52},{"s":"H1Wnuc-OD1Asp48","x":84.4,"y":2.72},{"s":"H1Wnuc-OD1Asp48","x":85.0,"y":2.56},{"s":"H1Wnuc-OD1Asp48","x":85.6,"y":3.04},{"s":"H1Wnuc-OD1Asp48","x":86.3,"y":3.52},{"s":"H1Wnuc-OD1Asp48","x":87.1,"y":3.48},{"s":"H1Wnuc-OD1Asp48","x":87.9,"y":3.36},{"s":"H1Wnuc-OD1Asp48","x":88.7,"y":3.28},{"s":"H1Wnuc-OD1Asp48","x":89.5,"y":3.16},{"s":"H1Wnuc-OD1Asp48","x":90.2,"y":3.12},{"s":"H1Wnuc-OD1Asp48","x":91.0,"y":3.2},{"s":"H1Wnuc-OD1Asp48","x":91.8,"y":3.04},{"s":"H1Wnuc-OD1Asp48","x":92.6,"y":3.2},{"s":"H1Wnuc-OD1Asp48","x":93.4,"y":3.6},{"s":"H1Wnuc-OD1Asp48","x":94.1,"y":3.6},{"s":"H1Wnuc-OD1Asp48","x":94.9,"y":3.44},{"s":"H1Wnuc-OD1Asp48","x":95.7,"y":3.12},{"s":"H1Wnuc-OD1Asp48","x":96.5,"y":2.8},{"s":"H1Wnuc-OD1Asp48","x":97.3,"y":2.63},{"s":"H1Wnuc-OD1Asp48","x":98.0,"y":3.04},{"s":"H1Wnuc-OD1Asp48","x":98.8,"y":3.52},{"s":"H1Wnuc-OD1Asp48","x":100,"y":3.85}
]
},
"hconcat": [
{
  "width": 554, "height": 409,
  "layer": [
    {
      "data": {"name": "leftband"},
      "mark": {"type": "area", "fillOpacity": 0.12},
      "encoding": {
        "x": {"field": "x", "type": "quantitative", "scale": {"domain": [-6, 105.2], "nice": false, "zero": false}, "axis": null},
        "y": {"field": "lo", "type": "quantitative", "scale": {"domain": [0.627, 6.704], "nice": false, "zero": false}, "axis": {"title": "Distance (Å)", "values": [1,2,3,4,5,6]}},
        "y2": {"field": "hi"},
        "fill": {"field": "s", "type": "nominal", "legend": null,
          "scale": {"domain": ["Calcium-COpopc","Cpopc-Opopc","H1Wnuc-OWassist","H2Wassist-Nδ1His47","H2Wassist-Opopc","Owat-Cpopc"],
                    "range": ["#700f80","#d9a0dc","#ffd000","#9acd32","#ffa500","#10f0f0"]}}
      }
    },
    {
      "data": {"name": "left"},
      "mark": {"type": "line", "strokeWidth": 3.5, "strokeJoin": "round", "strokeCap": "round"},
      "encoding": {
        "x": {"field": "x", "type": "quantitative"},
        "y": {"field": "y", "type": "quantitative"},
        "color": {"field": "s", "type": "nominal",
          "scale": {"domain": ["Calcium-COpopc","H1Wnuc-OWassist","H2Wassist-Nδ1His47","Owat-Cpopc","Cpopc-Opopc","H2Wassist-Opopc"],
                    "range": ["#700f80","#ffd000","#9acd32","#10f0f0","#d9a0dc","#ffa500"]},
          "legend": {"title": null, "orient": "none", "legendX": 368, "legendY": 9, "symbolType": "circle", "symbolSize": 20, "symbolStrokeWidth": 6, "labelFontSize": 16, "labelFont": "Liberation Sans", "labelOffset": 6, "rowPadding": 7, "clipHeight": 16, "padding": 6, "labelLimit": 300, "fillColor": "#fcf5f5", "strokeColor": "#c4c4c4",
            "labelColor": {"expr": "datum.value=='Calcium-COpopc'?'#9370db':datum.value=='H1Wnuc-OWassist'?'#ffd000':datum.value=='H2Wassist-Nδ1His47'?'#9acd32':datum.value=='Owat-Cpopc'?'#00e8e8':datum.value=='Cpopc-Opopc'?'#d9a0dc':'#ffa500'"}}
        }
      }
    }
  ]
},
{
  "width": 543, "height": 409,
  "layer": [
    {
      "data": {"name": "rightband"},
      "mark": {"type": "area", "fillOpacity": 0.1},
      "encoding": {
        "x": {"field": "x", "type": "quantitative", "scale": {"domain": [-5, 103.4], "nice": false, "zero": false}, "axis": null},
        "y": {"field": "lo", "type": "quantitative", "scale": {"domain": [0.545, 10.46], "nice": false, "zero": false}, "axis": {"title": "Distance (Å)", "values": [2,4,6,8,10]}},
        "y2": {"field": "hi"},
        "fill": {"field": "s", "type": "nominal", "legend": null,
          "scale": {"domain": ["Calcium-COpopc","Cpopc-Opopc","H1Wnuc-OD1Asp48","H1Wnuc-OWassist","H2Wassist-Nδ1His47","H2Wassist-Opopc","Owat-Cpopc"],
                    "range": ["#ff1493","#d9a0dc","#6495ed","#ffd000","#9acd32","#ffa500","#10f0f0"]}}
      }
    },
    {
      "data": {"name": "right"},
      "mark": {"type": "line", "strokeWidth": 2.8, "strokeJoin": "round", "strokeCap": "round"},
      "encoding": {
        "x": {"field": "x", "type": "quantitative"},
        "y": {"field": "y", "type": "quantitative"},
        "color": {"field": "s", "type": "nominal",
          "scale": {"domain": ["Calcium-COpopc","H1Wnuc-OWassist","H2Wassist-Nδ1His47","Owat-Cpopc","Cpopc-Opopc","H2Wassist-Opopc","H1Wnuc-OD1Asp48"],
                    "range": ["#ff1493","#ffd000","#9acd32","#10f0f0","#d9a0dc","#ffa500","#6495ed"]},
          "legend": {"title": null, "orient": "none", "legendX": 361, "legendY": 11, "symbolType": "circle", "symbolSize": 20, "symbolStrokeWidth": 6, "labelFontSize": 16, "labelFont": "Liberation Sans", "labelOffset": 5, "rowPadding": 7, "clipHeight": 16, "padding": 5, "labelLimit": 300, "fillColor": "#fcf5f5", "strokeColor": "#c4c4c4",
            "labelColor": {"expr": "datum.value=='Calcium-COpopc'?'#ff69b4':datum.value=='H1Wnuc-OWassist'?'#ffd000':datum.value=='H2Wassist-Nδ1His47'?'#9acd32':datum.value=='Owat-Cpopc'?'#00e8e8':datum.value=='Cpopc-Opopc'?'#d9a0dc':datum.value=='H2Wassist-Opopc'?'#ffa500':'#6495ed'"}}
        }
      }
    }
  ]
}
],
"resolve": {"scale": {"color": "independent", "fill": "independent"}, "legend": {"color": "independent", "fill": "independent"}}
}
